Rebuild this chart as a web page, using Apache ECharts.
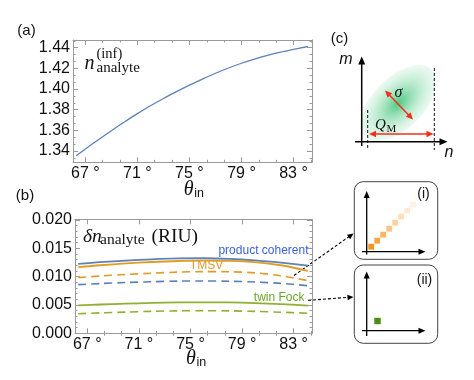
<!DOCTYPE html>
<html><head><meta charset="utf-8">
<script src="https://cdn.jsdelivr.net/npm/echarts@6/dist/echarts.min.js"></script>
<style>html,body{margin:0;padding:0;background:#fff}#c{width:474px;height:380px}</style>
</head><body><div id="c"></div>
<script>
// ---------- data ----------
const thetaA = [66.3, 67, 68, 69, 70, 71, 72, 73, 74, 75, 76, 77, 78, 79, 80, 81, 82, 83, 84.1];
const nInf   = [1.3355, 1.3420, 1.3510, 1.3597, 1.3681, 1.3762, 1.3838, 1.3909, 1.3975, 1.4038,
                1.4097, 1.4153, 1.4204, 1.4250, 1.4291, 1.4327, 1.4358, 1.4384, 1.4412];
const thetaB = [66.3, 68, 70, 72, 74, 76, 78, 80, 82, 84.1];
const coherentSolid = [0.01223, 0.01255, 0.01283, 0.01305, 0.01320, 0.01323, 0.01312, 0.01285, 0.01245, 0.01193];
const tmsvSolid     = [0.01165, 0.01200, 0.01232, 0.01257, 0.01275, 0.01283, 0.01278, 0.01255, 0.01200, 0.01100];
const tmsvDashed    = [0.00981, 0.01010, 0.01037, 0.01060, 0.01078, 0.01088, 0.01085, 0.01065, 0.01015, 0.00929];
const coherentDashed= [0.00858, 0.00877, 0.00895, 0.00910, 0.00920, 0.00923, 0.00918, 0.00905, 0.00880, 0.00840];
const fockSolid     = [0.00494, 0.00508, 0.00522, 0.00535, 0.00544, 0.00547, 0.00544, 0.00533, 0.00515, 0.00488];
const fockDashed    = [0.00346, 0.00360, 0.00374, 0.00387, 0.00396, 0.00399, 0.00396, 0.00386, 0.00372, 0.00353];
const xTicks  = [67, 71, 75, 79, 83];
const yTicksA = [1.34, 1.36, 1.38, 1.40, 1.42, 1.44];
const yTicksB = [0, 0.005, 0.010, 0.015, 0.020];
const legendNames = ['product coherent', 'TMSV', 'twin Fock'];

// ---------- helpers ----------
const BLUE = '#5E81B5', ORANGE = '#E19C24', GREEN = '#8FB032';
const FRAME = '#9a9a9a';
const zip = (xs, ys) => xs.map((x, i) => [x, ys[i]]);
function minorTicks(majors, step, div, min, max) {
  const out = [], d = step / div;
  for (let v = majors[0] - step; v <= majors[majors.length - 1] + step + 1e-9; v += d) {
    const r = Math.round(v * 1e6) / 1e6;
    if (r > min && r < max && !majors.some(m => Math.abs(m - r) < 1e-7)) out.push(r);
  }
  return out;
}
function frameAxes(kind, gridIndex, min, max, majors, minors, fmt, margin) {
  const pos = kind === 'x' ? ['bottom', 'top'] : ['left', 'right'];
  const out = [];
  pos.forEach((p, i) => {
    out.push({
      type: 'value', gridIndex, position: p, min, max,
      axisLine: { show: true, onZero: false, lineStyle: { color: FRAME, width: 1 } },
      splitLine: { show: false },
      axisTick: { show: true, inside: true, length: 5, customValues: majors, lineStyle: { color: FRAME } },
      axisLabel: { show: i === 0, customValues: majors, formatter: fmt, margin, color: '#111',
                   fontSize: 16, fontFamily: 'Liberation Sans' }
    });
    out.push({
      type: 'value', gridIndex, position: p, min, max,
      axisLine: { show: false }, splitLine: { show: false },
      axisTick: { show: true, inside: true, length: 2.5, customValues: minors, lineStyle: { color: FRAME } },
      axisLabel: { show: false }
    });
  });
  return out;
}
function head(x1, y1, x2, y2, L, W, color) {
  const dx = x2 - x1, dy = y2 - y1, d = Math.hypot(dx, dy), ux = dx / d, uy = dy / d;
  const bx = x2 - ux * L, by = y2 - uy * L;
  return { type: 'polygon', silent: true,
    shape: { points: [[x2, y2], [bx - uy * W, by + ux * W], [bx + uy * W, by - ux * W]] },
    style: { fill: color } };
}
function arrow(x1, y1, x2, y2, opt) {
  const o = Object.assign({ color: '#000', width: 1.5, L: 7, W: 3.5, both: false, dash: null }, opt || {});
  const dx = x2 - x1, dy = y2 - y1, d = Math.hypot(dx, dy), ux = dx / d, uy = dy / d;
  const ex = x2 - ux * o.L * 0.8, ey = y2 - uy * o.L * 0.8;
  const sx = o.both ? x1 + ux * o.L * 0.8 : x1, sy = o.both ? y1 + uy * o.L * 0.8 : y1;
  const els = [{ type: 'line', silent: true, shape: { x1: sx, y1: sy, x2: ex, y2: ey },
    style: { stroke: o.color, lineWidth: o.width, lineDash: o.dash } }];
  els.push(head(x1, y1, x2, y2, o.L, o.W, o.color));
  if (o.both) els.push(head(x2, y2, x1, y1, o.L, o.W, o.color));
  return els;
}
function txt(x, y, text, font, extra) {
  return { type: 'text', x, y, silent: true,
    style: Object.assign({ text, font, fill: '#111', align: 'left', verticalAlign: 'middle' }, extra || {}) };
}
const SERIF = '"Liberation Serif", "DejaVu Serif", serif';
const SANS = '"Liberation Sans", Arial, sans-serif';

const xMin = 66.05, xMax = 84.42;
const xMinor = minorTicks(xTicks, 4, 3, xMin, xMax);
const yAmin = 1.3291, yAmax = 1.4475;
const yMinorA = minorTicks(yTicksA, 0.02, 3, yAmin, yAmax);
const yMinorB = minorTicks(yTicksB, 0.005, 5, -0.0001, 0.0201);

const xAxes = [
  ...frameAxes('x', 0, xMin, xMax, xTicks, xMinor, v => v + ' °', 3),
  ...frameAxes('x', 1, xMin, xMax, xTicks, xMinor, v => v + ' °', 3)
];
const yAxes = [
  ...frameAxes('y', 0, yAmin, yAmax, yTicksA, yMinorA, v => v.toFixed(2), 3),
  ...frameAxes('y', 1, 0, 0.0201, yTicksB, yMinorB, v => v.toFixed(3), 3)
];

function lineSeries(xi, xs, ys, color, dashed, w) {
  return { type: 'line', xAxisIndex: xi, yAxisIndex: xi, data: zip(xs, ys), showSymbol: false,
    smooth: 0.3, silent: true, z: 3,
    lineStyle: { color, width: w || 1.6, type: dashed ? [8, 5] : 'solid' } };
}

// ---------- graphic (schematic parts) ----------
const g = [];
g.push(txt(26.5, 31, '(a)', '15px ' + SANS, { align: 'center' }));
g.push(txt(25, 196, '(b)', '15px ' + SANS, { align: 'center' }));
g.push(txt(339.5, 38.5, '(c)', '15px ' + SANS, { align: 'center' }));
// n_analyte^(inf)
g.push(txt(84.5, 63.5, 'n', 'italic 20px ' + SERIF));
g.push(txt(96.5, 54.5, '(inf)', '14.5px ' + SERIF));
g.push(txt(96.5, 68.5, 'analyte', '15px ' + SERIF));
// δn_analyte (RIU)
g.push(txt(83, 236.5, 'δn', 'italic 19.5px ' + SERIF));
g.push(txt(100, 240, 'analyte', '15.5px ' + SERIF));
g.push(txt(151.5, 236.5, '(RIU)', '19.5px ' + SERIF));
// theta_in titles
g.push(txt(188.7, 189.5, 'θ', 'italic 20px ' + SERIF, { align: 'center' }));
g.push(txt(194.2, 193.8, 'in', '12.5px ' + SANS));
g.push(txt(190.8, 358.5, 'θ', 'italic 20px ' + SERIF, { align: 'center' }));
g.push(txt(196.5, 362.8, 'in', '12.5px ' + SANS));
// legend labels
g.push(txt(308.5, 250.5, legendNames[0], '12px ' + SANS, { align: 'right', fill: '#3a5fd6' }));
g.push(txt(206.5, 265.3, legendNames[1], '12px ' + SANS, { align: 'center', fill: '#E8962A' }));
g.push(txt(304.5, 297.8, legendNames[2], '12px ' + SANS, { align: 'right', fill: '#6aa52a' }));
// panel (c)
g.push({ type: 'circle', silent: true, x: 398.5, y: 103, rotation: Math.PI / 4, scaleX: 1.85, scaleY: 1,
  shape: { cx: 0, cy: 0, r: 25.5 },
  style: { fill: { type: 'radial', x: 0.5, y: 0.5, r: 0.5, colorStops: [
    { offset: 0, color: 'rgba(58,196,118,0.9)' },
    { offset: 0.5, color: 'rgba(120,214,160,0.55)' },
    { offset: 1, color: 'rgba(195,238,212,0.3)' }] } } });
g.push(...arrow(361.7, 146, 361.7, 56.5, { width: 1.5, L: 8, W: 3.5 }));
g.push(...arrow(355, 141.7, 447.5, 141.7, { width: 1.5, L: 8, W: 3.5 }));
g.push({ type: 'line', silent: true, shape: { x1: 367.7, y1: 110, x2: 367.7, y2: 150 }, style: { stroke: '#111', lineWidth: 1, lineDash: [3, 2] } });
g.push({ type: 'line', silent: true, shape: { x1: 434.3, y1: 68, x2: 434.3, y2: 150 }, style: { stroke: '#111', lineWidth: 1, lineDash: [3, 2] } });
g.push(...arrow(369, 134, 433.5, 134, { color: '#f0301a', width: 1.5, L: 7, W: 3.2, both: true }));
g.push(...arrow(385, 90.5, 413, 119.5, { color: '#f0301a', width: 1.5, L: 7, W: 3.2, both: true }));
g.push(txt(346, 60, 'm', 'italic 16px ' + SANS, { align: 'center' }));
g.push(txt(449, 152.5, 'n', 'italic 16px ' + SANS, { align: 'center' }));
g.push(txt(398.5, 92.5, 'σ', 'italic 16px ' + SERIF, { align: 'center' }));
g.push(txt(375, 125, 'Q', 'italic 15px ' + SERIF));
g.push(txt(386.5, 129, 'M', '11px ' + SERIF));
// insets
g.push({ type: 'rect', silent: true, shape: { x: 354.3, y: 181.7, width: 83.4, height: 77.6, r: 9 }, style: { fill: 'none', stroke: '#444', lineWidth: 1 } });
g.push({ type: 'rect', silent: true, shape: { x: 354.3, y: 265, width: 83.4, height: 78.3, r: 9 }, style: { fill: 'none', stroke: '#444', lineWidth: 1 } });
g.push(txt(423.5, 194, '(i)', '14px ' + SANS, { align: 'center' }));
g.push(txt(424.5, 280.5, '(ii)', '14px ' + SANS, { align: 'center' }));
g.push(...arrow(366.7, 254.5, 366.7, 191, { width: 1.3, L: 7, W: 3 }));
g.push(...arrow(362, 251.7, 425.5, 251.7, { width: 1.3, L: 7, W: 3 }));
g.push(...arrow(366.7, 336, 366.7, 271.5, { width: 1.3, L: 7, W: 3 }));
g.push(...arrow(362, 330.7, 425.5, 330.7, { width: 1.3, L: 7, W: 3 }));
const sqCols = ['#F7921C', '#F9A43F', '#FAB660', '#FBC482', '#FCD3A0', '#FDDFBA', '#FEE9D1', '#FEF2E4'];
sqCols.forEach((c, i) => g.push({ type: 'rect', silent: true,
  shape: { x: 368.3 + 6 * i, y: 243.8 - 6 * i, width: 5.8, height: 5.8 }, style: { fill: c } }));
g.push({ type: 'rect', silent: true, shape: { x: 374.3, y: 317.8, width: 6.4, height: 6.4 }, style: { fill: '#4B8B0F' } });
// dashed pointer arrows
g.push(...arrow(294, 275.5, 353.5, 233.5, { width: 1.1, L: 6, W: 2.8, dash: [3, 2] }));
g.push(...arrow(308, 300.3, 353.5, 297, { width: 1.1, L: 6, W: 2.8, dash: [3, 2] }));

const chart = echarts.init(document.getElementById('c'), null, { renderer: 'canvas' });
chart.setOption({
  animation: false,
  backgroundColor: '#fff',
  grid: [
    { left: 73, top: 40, width: 239, height: 122.3 },
    { left: 75, top: 219.3, width: 237, height: 114 }
  ],
  xAxis: xAxes,
  yAxis: yAxes,
  series: [
    lineSeries(0, thetaA, nInf, BLUE, false, 1.3),
    lineSeries(4, thetaB, coherentSolid, BLUE, false, 1.8),
    lineSeries(4, thetaB, tmsvSolid, ORANGE, false, 1.8),
    lineSeries(4, thetaB, tmsvDashed, ORANGE, true, 1.6),
    lineSeries(4, thetaB, coherentDashed, BLUE, true, 1.6),
    lineSeries(4, thetaB, fockSolid, GREEN, false, 1.8),
    lineSeries(4, thetaB, fockDashed, GREEN, true, 1.6)
  ],
  graphic: { elements: g }
});
</script></body></html>
